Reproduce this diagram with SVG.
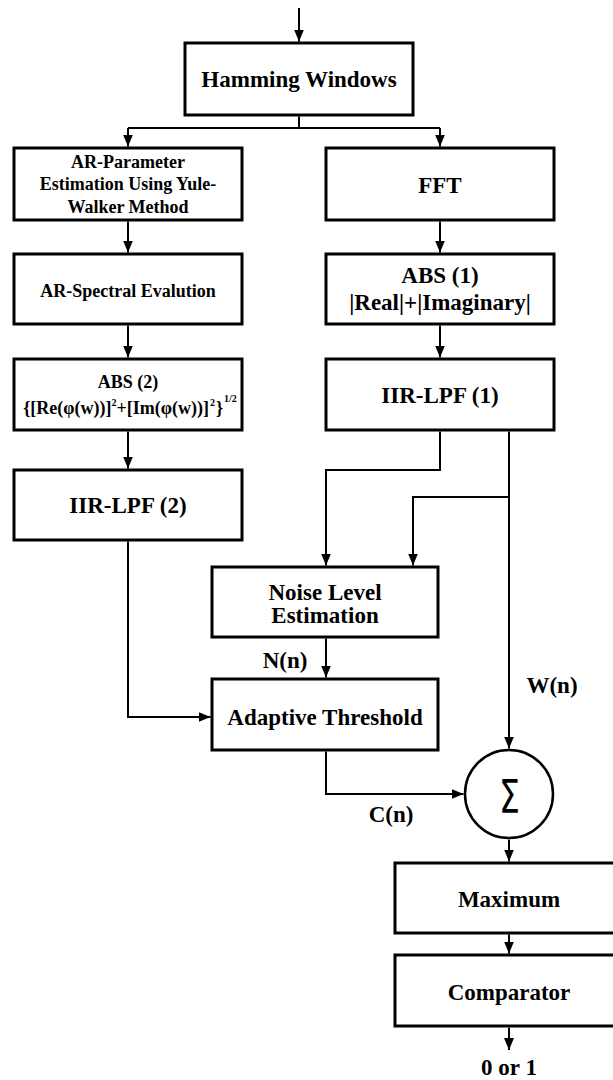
<svg xmlns="http://www.w3.org/2000/svg" width="613" height="1080" viewBox="0 0 613 1080">
  <defs>
    <marker id="arrow" viewBox="0 0 12 10" refX="12" refY="5" markerWidth="12" markerHeight="10" markerUnits="userSpaceOnUse" orient="auto">
      <path d="M0,0 L12,5 L0,10 z" fill="#000"/>
    </marker>
    <style>
      .box { fill: #fff; stroke: #000; stroke-width: 3; }
      .wire { fill: none; stroke: #000; stroke-width: 2; }
      .arr { marker-end: url(#arrow); }
      text { font-family: "Liberation Serif", "DejaVu Serif", serif; font-weight: bold; fill: #000; text-anchor: middle; }
      .lg { font-size: 23px; }
      .sm { font-size: 18px; }
      .sup { font-size: 10px; }
      .sigma { font-family: "DejaVu Sans", sans-serif; font-weight: normal; font-size: 46px; }
    </style>
  </defs>

  <rect width="613" height="1080" fill="#fff"/>

  <!-- connectors -->
  <g id="connectors">
    <path class="wire arr" d="M299,8 V41.5"/>
    <path class="wire" d="M299,116.5 V128 M128,128 H440"/>
    <path class="wire arr" d="M128,128 V146.5"/>
    <path class="wire arr" d="M440,128 V146.5"/>
    <path class="wire arr" d="M128,221.5 V252.5"/>
    <path class="wire arr" d="M128,325.5 V357.5"/>
    <path class="wire arr" d="M128,431.5 V468.5"/>
    <path class="wire arr" d="M440,221.5 V252.5"/>
    <path class="wire arr" d="M440,325.5 V357.5"/>
    <path class="wire arr" d="M440,431.5 V470 H326 V565.5"/>
    <path class="wire arr" d="M509,431.5 V748.5"/>
    <path class="wire arr" d="M509,497 H413 V565.5"/>
    <path class="wire arr" d="M326,638.5 V677.5"/>
    <path class="wire arr" d="M128,541.5 V717 H210.5"/>
    <path class="wire arr" d="M326,751.5 V794 H463.5"/>
    <path class="wire arr" d="M509,839.5 V861.5"/>
    <path class="wire arr" d="M509,934.5 V953.5"/>
    <path class="wire arr" d="M509,1027.5 V1050"/>
  </g>

  <g font-family="Liberation Serif, DejaVu Serif, serif">
  <g id="hamming">
    <rect class="box" x="185" y="43" width="228" height="72"/>
    <text class="lg" x="299" y="87">Hamming Windows</text>
  </g>

  <g id="ar-parameter">
    <rect class="box" x="14" y="148" width="228" height="72"/>
    <text class="sm" x="128" y="168">AR-Parameter</text>
    <text class="sm" x="128" y="190">Estimation Using Yule-</text>
    <text class="sm" x="128" y="213">Walker Method</text>
  </g>

  <g id="fft">
    <rect class="box" x="326" y="148" width="228" height="72"/>
    <text class="lg" x="440" y="193">FFT</text>
  </g>

  <g id="ar-spectral">
    <rect class="box" x="14" y="254" width="228" height="70"/>
    <text class="sm" x="128" y="297">AR-Spectral Evalution</text>
  </g>

  <g id="abs1">
    <rect class="box" x="326" y="254" width="228" height="70"/>
    <text class="lg" x="440" y="283">ABS (1)</text>
    <text class="lg" x="440" y="310">|Real|+|Imaginary|</text>
  </g>

  <g id="abs2">
    <rect class="box" x="14" y="359" width="228" height="71"/>
    <text class="sm" x="128" y="388">ABS (2)</text>
    <text class="sm" x="130" y="414">{[Re(φ(w))]<tspan class="sup" dy="-8">2</tspan><tspan dy="8">+</tspan>[Im(φ(w))]<tspan class="sup" dx="1" dy="-8">2</tspan><tspan dx="1" dy="8">}</tspan><tspan class="sup" dx="1" dy="-12">1/2</tspan></text>
  </g>

  <g id="iir1">
    <rect class="box" x="326" y="359" width="228" height="71"/>
    <text class="lg" x="440" y="403">IIR-LPF (1)</text>
  </g>

  <g id="iir2">
    <rect class="box" x="14" y="470" width="228" height="70"/>
    <text class="lg" x="128" y="513">IIR-LPF (2)</text>
  </g>

  <g id="noise">
    <rect class="box" x="212" y="567" width="226" height="70"/>
    <text class="lg" x="325" y="600">Noise Level</text>
    <text class="lg" x="325" y="623">Estimation</text>
  </g>

  <g id="adaptive">
    <rect class="box" x="212" y="679" width="226" height="71"/>
    <text class="lg" x="325" y="725">Adaptive Threshold</text>
  </g>

  <g id="sum">
    <circle cx="509" cy="794" r="44" fill="#fff" stroke="#000" stroke-width="2.5"/>
    <text class="sigma" transform="translate(509.5,813) scale(0.72,1)" x="0" y="0">Σ</text>
  </g>

  <g id="maximum">
    <rect class="box" x="395" y="863" width="228" height="70"/>
    <text class="lg" x="509" y="907">Maximum</text>
  </g>

  <g id="comparator">
    <rect class="box" x="395" y="955" width="228" height="71"/>
    <text class="lg" x="509" y="1000">Comparator</text>
  </g>

  <g id="labels">
    <text class="lg" x="285" y="668">N(n)</text>
    <text class="lg" x="552" y="693">W(n)</text>
    <text class="lg" x="391" y="822">C(n)</text>
    <text class="lg" x="509" y="1075">0 or 1</text>
  </g>
  </g>
</svg>
